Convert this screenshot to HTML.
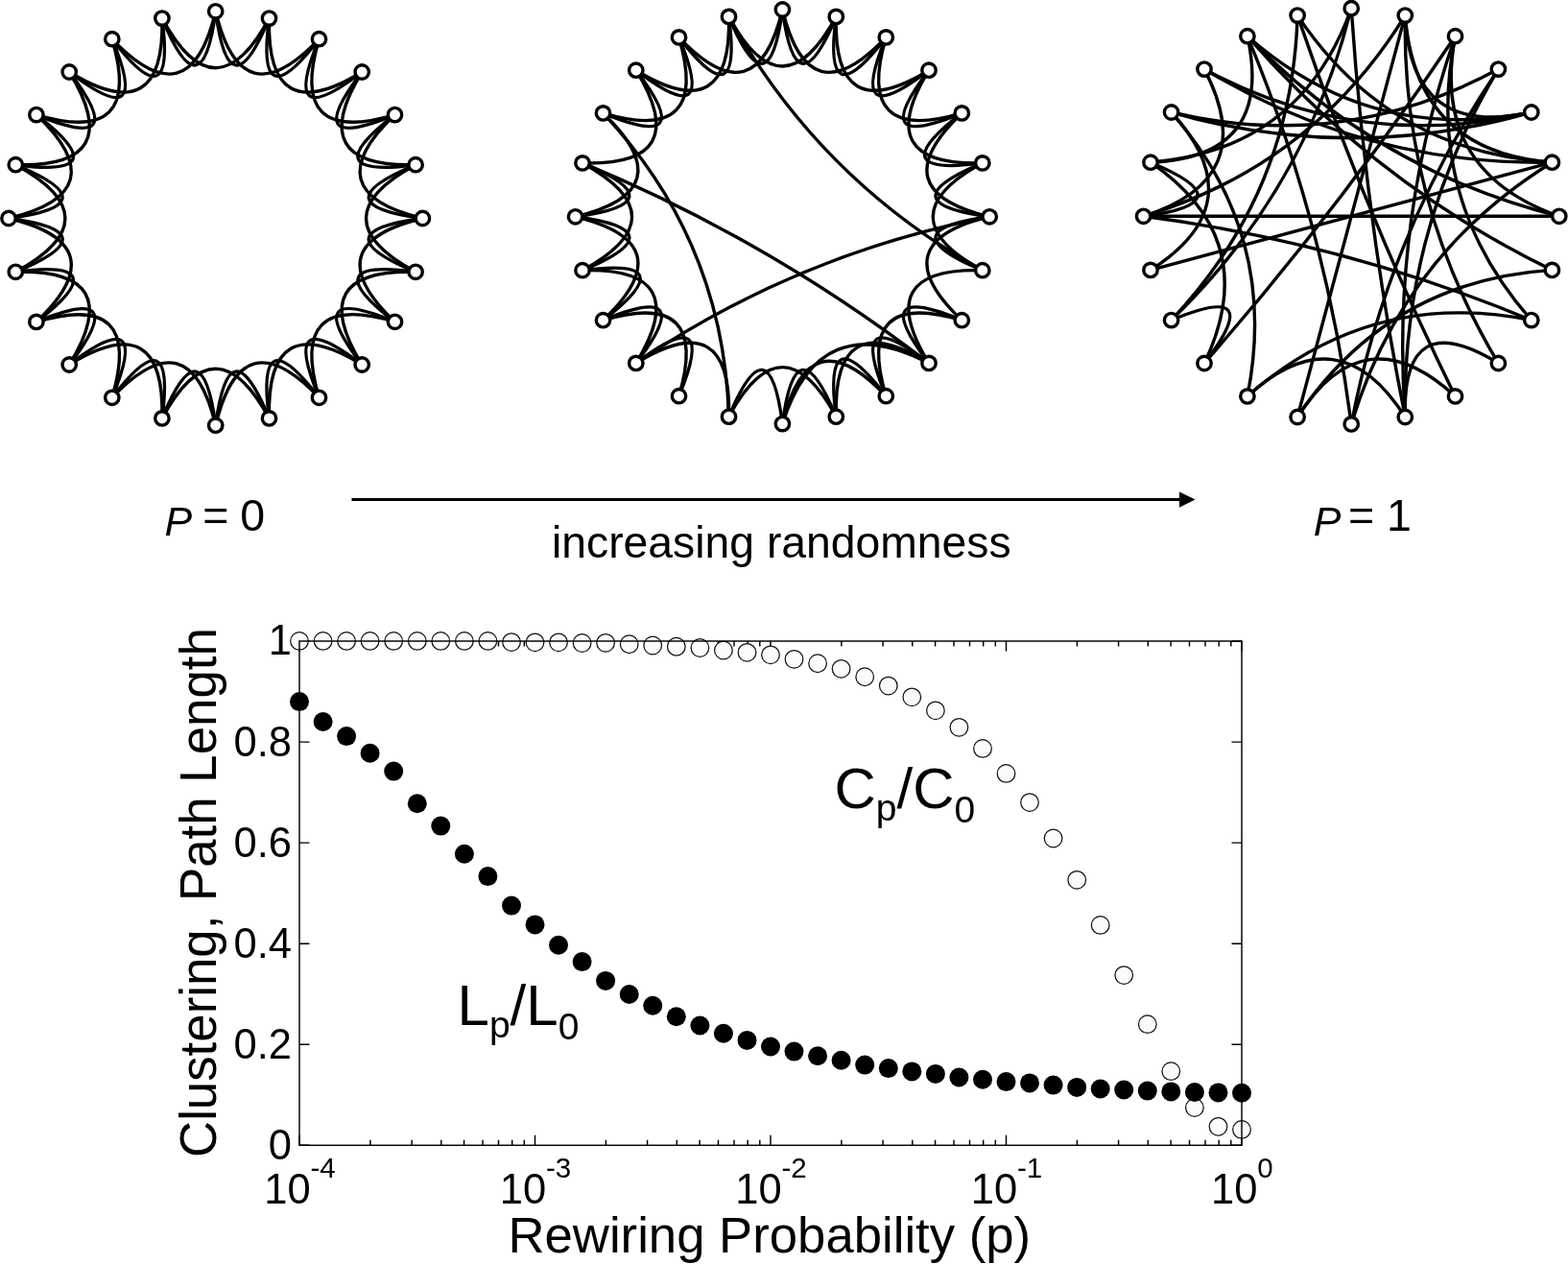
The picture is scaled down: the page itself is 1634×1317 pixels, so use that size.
<!DOCTYPE html>
<html><head><meta charset="utf-8"><title>Small-world network: increasing randomness</title>
<style>html,body{margin:0;padding:0;background:#fff}svg{display:block}</style></head>
<body>
<svg width="1634" height="1317" viewBox="0 0 1634 1317" font-family="'Liberation Sans', sans-serif" fill="#000">
<rect width="1634" height="1317" fill="#fff"/>
<g id="g1">
<g fill="none" stroke="#000" stroke-width="3.4" stroke-linecap="round">
<path d="M224.7 11.8Q238.8 120.4 280.5 19.1"/>
<path d="M224.7 11.8Q251.9 125.9 332.5 40.7"/>
<path d="M280.5 19.1Q266.0 127.7 332.5 40.7"/>
<path d="M280.5 19.1Q277.3 136.4 377.2 75.0"/>
<path d="M332.5 40.7Q290.4 141.8 377.2 75.0"/>
<path d="M332.5 40.7Q299.1 153.1 411.5 119.6"/>
<path d="M377.2 75.0Q310.4 161.8 411.5 119.6"/>
<path d="M377.2 75.0Q315.8 174.9 433.1 171.7"/>
<path d="M411.5 119.6Q324.5 186.2 433.1 171.7"/>
<path d="M411.5 119.6Q326.3 200.3 440.4 227.5"/>
<path d="M433.1 171.7Q331.8 213.4 440.4 227.5"/>
<path d="M433.1 171.7Q329.9 227.5 433.1 283.3"/>
<path d="M440.4 227.5Q331.8 241.6 433.1 283.3"/>
<path d="M440.4 227.5Q326.3 254.7 411.5 335.3"/>
<path d="M433.1 283.3Q324.5 268.8 411.5 335.3"/>
<path d="M433.1 283.3Q315.8 280.1 377.2 380.0"/>
<path d="M411.5 335.3Q310.4 293.2 377.2 380.0"/>
<path d="M411.5 335.3Q299.1 301.9 332.5 414.3"/>
<path d="M377.2 380.0Q290.4 313.2 332.5 414.3"/>
<path d="M377.2 380.0Q277.3 318.6 280.5 435.9"/>
<path d="M332.5 414.3Q266.0 327.3 280.5 435.9"/>
<path d="M332.5 414.3Q251.9 329.1 224.7 443.2"/>
<path d="M280.5 435.9Q238.8 334.6 224.7 443.2"/>
<path d="M280.5 435.9Q224.7 332.7 168.9 435.9"/>
<path d="M224.7 443.2Q210.6 334.6 168.9 435.9"/>
<path d="M224.7 443.2Q197.5 329.1 116.8 414.3"/>
<path d="M168.9 435.9Q183.4 327.3 116.8 414.3"/>
<path d="M168.9 435.9Q172.1 318.6 72.2 380.0"/>
<path d="M116.8 414.3Q159.0 313.2 72.2 380.0"/>
<path d="M116.8 414.3Q150.3 301.9 37.9 335.4"/>
<path d="M72.2 380.0Q139.0 293.2 37.9 335.4"/>
<path d="M72.2 380.0Q133.6 280.1 16.3 283.3"/>
<path d="M37.9 335.4Q124.9 268.8 16.3 283.3"/>
<path d="M37.9 335.4Q123.1 254.7 9.0 227.5"/>
<path d="M16.3 283.3Q117.6 241.6 9.0 227.5"/>
<path d="M16.3 283.3Q119.5 227.5 16.3 171.7"/>
<path d="M9.0 227.5Q117.6 213.4 16.3 171.7"/>
<path d="M9.0 227.5Q123.1 200.3 37.9 119.6"/>
<path d="M16.3 171.7Q124.9 186.2 37.9 119.6"/>
<path d="M16.3 171.7Q133.6 174.9 72.2 75.0"/>
<path d="M37.9 119.6Q139.0 161.8 72.2 75.0"/>
<path d="M37.9 119.6Q150.3 153.1 116.8 40.7"/>
<path d="M72.2 75.0Q159.0 141.8 116.8 40.7"/>
<path d="M72.2 75.0Q172.1 136.4 168.9 19.1"/>
<path d="M116.8 40.7Q183.4 127.7 168.9 19.1"/>
<path d="M116.8 40.7Q197.5 125.9 224.7 11.8"/>
<path d="M168.9 19.1Q210.6 120.4 224.7 11.8"/>
<path d="M168.9 19.1Q224.7 122.3 280.5 19.1"/>
</g>
<circle cx="224.7" cy="11.8" r="7.2" fill="#fff" stroke="#000" stroke-width="3.4"/>
<circle cx="280.5" cy="19.1" r="7.2" fill="#fff" stroke="#000" stroke-width="3.4"/>
<circle cx="332.5" cy="40.7" r="7.2" fill="#fff" stroke="#000" stroke-width="3.4"/>
<circle cx="377.2" cy="75.0" r="7.2" fill="#fff" stroke="#000" stroke-width="3.4"/>
<circle cx="411.5" cy="119.6" r="7.2" fill="#fff" stroke="#000" stroke-width="3.4"/>
<circle cx="433.1" cy="171.7" r="7.2" fill="#fff" stroke="#000" stroke-width="3.4"/>
<circle cx="440.4" cy="227.5" r="7.2" fill="#fff" stroke="#000" stroke-width="3.4"/>
<circle cx="433.1" cy="283.3" r="7.2" fill="#fff" stroke="#000" stroke-width="3.4"/>
<circle cx="411.5" cy="335.3" r="7.2" fill="#fff" stroke="#000" stroke-width="3.4"/>
<circle cx="377.2" cy="380.0" r="7.2" fill="#fff" stroke="#000" stroke-width="3.4"/>
<circle cx="332.5" cy="414.3" r="7.2" fill="#fff" stroke="#000" stroke-width="3.4"/>
<circle cx="280.5" cy="435.9" r="7.2" fill="#fff" stroke="#000" stroke-width="3.4"/>
<circle cx="224.7" cy="443.2" r="7.2" fill="#fff" stroke="#000" stroke-width="3.4"/>
<circle cx="168.9" cy="435.9" r="7.2" fill="#fff" stroke="#000" stroke-width="3.4"/>
<circle cx="116.8" cy="414.3" r="7.2" fill="#fff" stroke="#000" stroke-width="3.4"/>
<circle cx="72.2" cy="380.0" r="7.2" fill="#fff" stroke="#000" stroke-width="3.4"/>
<circle cx="37.9" cy="335.4" r="7.2" fill="#fff" stroke="#000" stroke-width="3.4"/>
<circle cx="16.3" cy="283.3" r="7.2" fill="#fff" stroke="#000" stroke-width="3.4"/>
<circle cx="9.0" cy="227.5" r="7.2" fill="#fff" stroke="#000" stroke-width="3.4"/>
<circle cx="16.3" cy="171.7" r="7.2" fill="#fff" stroke="#000" stroke-width="3.4"/>
<circle cx="37.9" cy="119.6" r="7.2" fill="#fff" stroke="#000" stroke-width="3.4"/>
<circle cx="72.2" cy="75.0" r="7.2" fill="#fff" stroke="#000" stroke-width="3.4"/>
<circle cx="116.8" cy="40.7" r="7.2" fill="#fff" stroke="#000" stroke-width="3.4"/>
<circle cx="168.9" cy="19.1" r="7.2" fill="#fff" stroke="#000" stroke-width="3.4"/>
</g>
<g id="g2">
<g fill="none" stroke="#000" stroke-width="3.4" stroke-linecap="round">
<path d="M1031.2 225.8Q831.4 264.3 662.8 378.4"/>
<path d="M1002.3 117.9Q917.1 198.6 1031.2 225.8"/>
<path d="M923.3 38.9Q881.2 140.1 968.0 73.2"/>
<path d="M871.3 434.2Q829.5 332.9 815.4 441.6"/>
<path d="M1002.3 117.9Q915.2 184.5 1023.8 169.9"/>
<path d="M815.4 10.0Q788.2 124.1 707.5 38.9"/>
<path d="M1023.8 281.7Q906.6 278.4 968.0 378.4"/>
<path d="M662.8 73.2Q762.8 134.6 759.5 17.4"/>
<path d="M707.5 412.7Q749.6 311.5 662.8 378.4"/>
<path d="M923.3 412.7Q856.7 325.6 871.3 434.2"/>
<path d="M1023.8 281.7Q853.9 187.3 759.5 17.4"/>
<path d="M968.0 73.2Q901.1 160.0 1002.3 117.9"/>
<path d="M628.5 333.7Q715.6 267.1 607.0 281.7"/>
<path d="M871.3 17.4Q815.4 120.5 759.5 17.4"/>
<path d="M815.4 10.0Q842.6 124.1 923.3 38.9"/>
<path d="M707.5 38.9Q774.1 126.0 759.5 17.4"/>
<path d="M662.8 378.4Q729.7 291.6 628.5 333.7"/>
<path d="M1002.3 333.7Q889.8 300.2 923.3 412.7"/>
<path d="M923.3 38.9Q889.8 151.4 1002.3 117.9"/>
<path d="M1023.8 169.9Q922.5 211.7 1031.2 225.8"/>
<path d="M968.0 378.4Q868.0 317.0 871.3 434.2"/>
<path d="M599.6 225.8Q708.3 211.7 607.0 169.9"/>
<path d="M968.0 73.2Q906.6 173.2 1023.8 169.9"/>
<path d="M662.8 378.4Q724.2 278.4 607.0 281.7"/>
<path d="M968.0 378.4Q853.9 318.8 815.4 441.6"/>
<path d="M871.3 17.4Q868.0 134.6 968.0 73.2"/>
<path d="M599.6 225.8Q713.7 198.6 628.5 117.9"/>
<path d="M871.3 434.2Q815.4 331.1 759.5 434.2"/>
<path d="M707.5 412.7Q741.0 300.2 628.5 333.7"/>
<path d="M759.5 434.2Q762.8 317.0 662.8 378.4"/>
<path d="M815.4 10.0Q829.5 118.7 871.3 17.4"/>
<path d="M1031.2 225.8Q922.5 239.9 1023.8 281.7"/>
<path d="M607.0 169.9Q724.2 173.2 662.8 73.2"/>
<path d="M607.0 281.7Q708.3 239.9 599.6 225.8"/>
<path d="M662.8 73.2Q749.6 140.1 707.5 38.9"/>
<path d="M923.3 412.7Q842.6 327.5 815.4 441.6"/>
<path d="M1031.2 225.8Q917.1 253.0 1002.3 333.7"/>
<path d="M628.5 333.7Q713.7 253.0 599.6 225.8"/>
<path d="M628.5 117.9Q729.7 160.0 662.8 73.2"/>
<path d="M1023.8 169.9Q920.7 225.8 1023.8 281.7"/>
<path d="M968.0 378.4Q881.2 311.5 923.3 412.7"/>
<path d="M871.3 17.4Q856.7 126.0 923.3 38.9"/>
<path d="M1002.3 333.7Q901.1 291.6 968.0 378.4"/>
<path d="M607.0 281.7Q710.1 225.8 607.0 169.9"/>
<path d="M815.4 10.0Q801.3 118.7 759.5 17.4"/>
<path d="M759.5 434.2Q754.1 251.2 628.5 117.9"/>
<path d="M815.4 441.6Q801.3 332.9 759.5 434.2"/>
<path d="M628.5 117.9Q741.0 151.4 707.5 38.9"/>
<path d="M968.0 378.4Q801.3 250.2 607.0 169.9"/>
</g>
<circle cx="815.4" cy="10.0" r="7.2" fill="#fff" stroke="#000" stroke-width="3.4"/>
<circle cx="871.3" cy="17.4" r="7.2" fill="#fff" stroke="#000" stroke-width="3.4"/>
<circle cx="923.3" cy="38.9" r="7.2" fill="#fff" stroke="#000" stroke-width="3.4"/>
<circle cx="968.0" cy="73.2" r="7.2" fill="#fff" stroke="#000" stroke-width="3.4"/>
<circle cx="1002.3" cy="117.9" r="7.2" fill="#fff" stroke="#000" stroke-width="3.4"/>
<circle cx="1023.8" cy="169.9" r="7.2" fill="#fff" stroke="#000" stroke-width="3.4"/>
<circle cx="1031.2" cy="225.8" r="7.2" fill="#fff" stroke="#000" stroke-width="3.4"/>
<circle cx="1023.8" cy="281.7" r="7.2" fill="#fff" stroke="#000" stroke-width="3.4"/>
<circle cx="1002.3" cy="333.7" r="7.2" fill="#fff" stroke="#000" stroke-width="3.4"/>
<circle cx="968.0" cy="378.4" r="7.2" fill="#fff" stroke="#000" stroke-width="3.4"/>
<circle cx="923.3" cy="412.7" r="7.2" fill="#fff" stroke="#000" stroke-width="3.4"/>
<circle cx="871.3" cy="434.2" r="7.2" fill="#fff" stroke="#000" stroke-width="3.4"/>
<circle cx="815.4" cy="441.6" r="7.2" fill="#fff" stroke="#000" stroke-width="3.4"/>
<circle cx="759.5" cy="434.2" r="7.2" fill="#fff" stroke="#000" stroke-width="3.4"/>
<circle cx="707.5" cy="412.7" r="7.2" fill="#fff" stroke="#000" stroke-width="3.4"/>
<circle cx="662.8" cy="378.4" r="7.2" fill="#fff" stroke="#000" stroke-width="3.4"/>
<circle cx="628.5" cy="333.7" r="7.2" fill="#fff" stroke="#000" stroke-width="3.4"/>
<circle cx="607.0" cy="281.7" r="7.2" fill="#fff" stroke="#000" stroke-width="3.4"/>
<circle cx="599.6" cy="225.8" r="7.2" fill="#fff" stroke="#000" stroke-width="3.4"/>
<circle cx="607.0" cy="169.9" r="7.2" fill="#fff" stroke="#000" stroke-width="3.4"/>
<circle cx="628.5" cy="117.9" r="7.2" fill="#fff" stroke="#000" stroke-width="3.4"/>
<circle cx="662.8" cy="73.2" r="7.2" fill="#fff" stroke="#000" stroke-width="3.4"/>
<circle cx="707.5" cy="38.9" r="7.2" fill="#fff" stroke="#000" stroke-width="3.4"/>
<circle cx="759.5" cy="17.4" r="7.2" fill="#fff" stroke="#000" stroke-width="3.4"/>
</g>
<g id="g3">
<g fill="none" stroke="#000" stroke-width="3.4" stroke-linecap="round">
<path d="M1408.2 8.7Q1355.4 156.5 1199.0 169.2"/>
<path d="M1408.2 8.7Q1360.8 198.0 1220.6 333.6"/>
<path d="M1408.2 8.7Q1422.4 223.4 1464.3 434.5"/>
<path d="M1464.3 16.1Q1367.7 172.5 1191.6 225.3"/>
<path d="M1464.3 16.1Q1408.2 225.3 1352.1 434.5"/>
<path d="M1464.3 16.1Q1461.0 211.1 1561.4 378.5"/>
<path d="M1464.3 16.1Q1469.7 145.1 1595.8 117.0"/>
<path d="M1464.3 16.1Q1475.2 158.3 1617.4 169.2"/>
<path d="M1516.5 37.7Q1396.9 216.6 1255.0 378.5"/>
<path d="M1516.5 37.7Q1449.7 230.8 1464.3 434.5"/>
<path d="M1516.5 37.7Q1482.9 205.3 1595.8 333.6"/>
<path d="M1516.5 37.7Q1490.2 177.9 1624.8 225.3"/>
<path d="M1561.4 72.1Q1399.5 159.3 1220.6 117.0"/>
<path d="M1561.4 72.1Q1446.9 241.3 1408.2 441.9"/>
<path d="M1595.8 117.0Q1408.2 170.6 1220.6 117.0"/>
<path d="M1595.8 117.0Q1416.9 159.3 1255.0 72.1"/>
<path d="M1595.8 117.0Q1428.2 150.6 1299.9 37.7"/>
<path d="M1617.4 169.2Q1446.9 158.3 1352.1 16.1"/>
<path d="M1617.4 169.2Q1422.4 172.5 1255.0 72.1"/>
<path d="M1617.4 169.2Q1408.2 225.3 1199.0 281.4"/>
<path d="M1617.4 169.2Q1461.0 265.8 1408.2 441.9"/>
<path d="M1624.8 225.3Q1408.2 225.3 1191.6 225.3"/>
<path d="M1624.8 225.3Q1435.5 177.9 1299.9 37.7"/>
<path d="M1617.4 281.4Q1433.7 192.1 1299.9 37.7"/>
<path d="M1617.4 281.4Q1446.9 292.3 1352.1 434.5"/>
<path d="M1595.8 333.6Q1400.9 252.6 1191.6 225.3"/>
<path d="M1595.8 333.6Q1428.2 300.0 1299.9 412.9"/>
<path d="M1561.4 378.5Q1461.0 316.8 1464.3 434.5"/>
<path d="M1516.5 412.9Q1421.4 219.8 1352.1 16.1"/>
<path d="M1516.5 412.9Q1421.4 325.5 1352.1 434.5"/>
<path d="M1464.3 434.5Q1395.0 325.5 1299.9 412.9"/>
<path d="M1408.2 441.9Q1380.9 232.6 1299.9 37.7"/>
<path d="M1299.9 412.9Q1333.5 245.3 1220.6 117.0"/>
<path d="M1255.0 378.5Q1322.2 291.3 1220.6 333.6"/>
<path d="M1255.0 378.5Q1316.7 249.8 1199.0 169.2"/>
<path d="M1220.6 333.6Q1346.7 199.8 1352.1 16.1"/>
<path d="M1199.0 281.4Q1308.0 212.1 1220.6 117.0"/>
<path d="M1191.6 225.3Q1300.7 211.1 1199.0 169.2"/>
<path d="M1191.6 225.3Q1314.8 186.6 1255.0 72.1"/>
<path d="M1199.0 169.2Q1328.0 163.8 1299.9 37.7"/>
<path d="M1561.4 72.1Q1461.0 239.5 1464.3 434.5"/>
</g>
<circle cx="1408.2" cy="8.7" r="7.2" fill="#fff" stroke="#000" stroke-width="3.4"/>
<circle cx="1464.3" cy="16.1" r="7.2" fill="#fff" stroke="#000" stroke-width="3.4"/>
<circle cx="1516.5" cy="37.7" r="7.2" fill="#fff" stroke="#000" stroke-width="3.4"/>
<circle cx="1561.4" cy="72.1" r="7.2" fill="#fff" stroke="#000" stroke-width="3.4"/>
<circle cx="1595.8" cy="117.0" r="7.2" fill="#fff" stroke="#000" stroke-width="3.4"/>
<circle cx="1617.4" cy="169.2" r="7.2" fill="#fff" stroke="#000" stroke-width="3.4"/>
<circle cx="1624.8" cy="225.3" r="7.2" fill="#fff" stroke="#000" stroke-width="3.4"/>
<circle cx="1617.4" cy="281.4" r="7.2" fill="#fff" stroke="#000" stroke-width="3.4"/>
<circle cx="1595.8" cy="333.6" r="7.2" fill="#fff" stroke="#000" stroke-width="3.4"/>
<circle cx="1561.4" cy="378.5" r="7.2" fill="#fff" stroke="#000" stroke-width="3.4"/>
<circle cx="1516.5" cy="412.9" r="7.2" fill="#fff" stroke="#000" stroke-width="3.4"/>
<circle cx="1464.3" cy="434.5" r="7.2" fill="#fff" stroke="#000" stroke-width="3.4"/>
<circle cx="1408.2" cy="441.9" r="7.2" fill="#fff" stroke="#000" stroke-width="3.4"/>
<circle cx="1352.1" cy="434.5" r="7.2" fill="#fff" stroke="#000" stroke-width="3.4"/>
<circle cx="1299.9" cy="412.9" r="7.2" fill="#fff" stroke="#000" stroke-width="3.4"/>
<circle cx="1255.0" cy="378.5" r="7.2" fill="#fff" stroke="#000" stroke-width="3.4"/>
<circle cx="1220.6" cy="333.6" r="7.2" fill="#fff" stroke="#000" stroke-width="3.4"/>
<circle cx="1199.0" cy="281.4" r="7.2" fill="#fff" stroke="#000" stroke-width="3.4"/>
<circle cx="1191.6" cy="225.3" r="7.2" fill="#fff" stroke="#000" stroke-width="3.4"/>
<circle cx="1199.0" cy="169.2" r="7.2" fill="#fff" stroke="#000" stroke-width="3.4"/>
<circle cx="1220.6" cy="117.0" r="7.2" fill="#fff" stroke="#000" stroke-width="3.4"/>
<circle cx="1255.0" cy="72.1" r="7.2" fill="#fff" stroke="#000" stroke-width="3.4"/>
<circle cx="1299.9" cy="37.7" r="7.2" fill="#fff" stroke="#000" stroke-width="3.4"/>
<circle cx="1352.1" cy="16.1" r="7.2" fill="#fff" stroke="#000" stroke-width="3.4"/>
</g>
<g id="labels">
<path d="M366.5 520.6H1232" stroke="#000" stroke-width="3" fill="none"/>
<path d="M1245.5 520.6L1229 512.4V528.8Z" fill="#000"/>
<text x="575" y="581.2" font-size="46.3">increasing randomness</text>
<text x="171.5" y="558" font-size="43" font-style="italic">P</text>
<text x="211.3" y="552.9" font-size="46.5" word-spacing="-1">= 0</text>
<text x="1368.8" y="558" font-size="43" font-style="italic">P</text>
<text x="1405" y="552.9" font-size="46.5">= 1</text>
</g>
<g id="plot">
<path d="M312.0 1193.3v-10.5 M312.0 668.0v10.5 M385.9 1193.3v-5.5 M385.9 668.0v5.5 M429.1 1193.3v-5.5 M429.1 668.0v5.5 M459.8 1193.3v-5.5 M459.8 668.0v5.5 M483.6 1193.3v-5.5 M483.6 668.0v5.5 M503.0 1193.3v-5.5 M503.0 668.0v5.5 M519.5 1193.3v-5.5 M519.5 668.0v5.5 M533.7 1193.3v-5.5 M533.7 668.0v5.5 M546.3 1193.3v-5.5 M546.3 668.0v5.5 M557.5 1193.3v-10.5 M557.5 668.0v10.5 M631.4 1193.3v-5.5 M631.4 668.0v5.5 M674.6 1193.3v-5.5 M674.6 668.0v5.5 M705.3 1193.3v-5.5 M705.3 668.0v5.5 M729.1 1193.3v-5.5 M729.1 668.0v5.5 M748.5 1193.3v-5.5 M748.5 668.0v5.5 M765.0 1193.3v-5.5 M765.0 668.0v5.5 M779.2 1193.3v-5.5 M779.2 668.0v5.5 M791.8 1193.3v-5.5 M791.8 668.0v5.5 M803.0 1193.3v-10.5 M803.0 668.0v10.5 M876.9 1193.3v-5.5 M876.9 668.0v5.5 M920.1 1193.3v-5.5 M920.1 668.0v5.5 M950.8 1193.3v-5.5 M950.8 668.0v5.5 M974.6 1193.3v-5.5 M974.6 668.0v5.5 M994.0 1193.3v-5.5 M994.0 668.0v5.5 M1010.5 1193.3v-5.5 M1010.5 668.0v5.5 M1024.7 1193.3v-5.5 M1024.7 668.0v5.5 M1037.3 1193.3v-5.5 M1037.3 668.0v5.5 M1048.5 1193.3v-10.5 M1048.5 668.0v10.5 M1122.4 1193.3v-5.5 M1122.4 668.0v5.5 M1165.6 1193.3v-5.5 M1165.6 668.0v5.5 M1196.3 1193.3v-5.5 M1196.3 668.0v5.5 M1220.1 1193.3v-5.5 M1220.1 668.0v5.5 M1239.5 1193.3v-5.5 M1239.5 668.0v5.5 M1256.0 1193.3v-5.5 M1256.0 668.0v5.5 M1270.2 1193.3v-5.5 M1270.2 668.0v5.5 M1282.8 1193.3v-5.5 M1282.8 668.0v5.5 M1294.0 1193.3v-10.5 M1294.0 668.0v10.5 M312.0 1193.3h10.5 M1294.0 1193.3h-10.5 M312.0 1088.2h10.5 M1294.0 1088.2h-10.5 M312.0 983.2h10.5 M1294.0 983.2h-10.5 M312.0 878.1h10.5 M1294.0 878.1h-10.5 M312.0 773.1h10.5 M1294.0 773.1h-10.5 M312.0 668.0h10.5 M1294.0 668.0h-10.5" stroke="#000" stroke-width="1.45" fill="none"/>
<circle cx="312.0" cy="667.9" r="9.3" fill="#fbfbfb" stroke="#111" stroke-width="1.25"/>
<circle cx="336.6" cy="667.9" r="9.3" fill="#fbfbfb" stroke="#111" stroke-width="1.25"/>
<circle cx="361.1" cy="667.9" r="9.3" fill="#fbfbfb" stroke="#111" stroke-width="1.25"/>
<circle cx="385.6" cy="667.9" r="9.3" fill="#fbfbfb" stroke="#111" stroke-width="1.25"/>
<circle cx="410.2" cy="667.9" r="9.3" fill="#fbfbfb" stroke="#111" stroke-width="1.25"/>
<circle cx="434.8" cy="667.9" r="9.3" fill="#fbfbfb" stroke="#111" stroke-width="1.25"/>
<circle cx="459.3" cy="667.9" r="9.3" fill="#fbfbfb" stroke="#111" stroke-width="1.25"/>
<circle cx="483.9" cy="667.9" r="9.3" fill="#fbfbfb" stroke="#111" stroke-width="1.25"/>
<circle cx="508.4" cy="667.9" r="9.3" fill="#fbfbfb" stroke="#111" stroke-width="1.25"/>
<circle cx="533.0" cy="669.1" r="9.3" fill="#fbfbfb" stroke="#111" stroke-width="1.25"/>
<circle cx="557.5" cy="669.3" r="9.3" fill="#fbfbfb" stroke="#111" stroke-width="1.25"/>
<circle cx="582.0" cy="669.3" r="9.3" fill="#fbfbfb" stroke="#111" stroke-width="1.25"/>
<circle cx="606.6" cy="670.0" r="9.3" fill="#fbfbfb" stroke="#111" stroke-width="1.25"/>
<circle cx="631.1" cy="669.8" r="9.3" fill="#fbfbfb" stroke="#111" stroke-width="1.25"/>
<circle cx="655.7" cy="671.2" r="9.3" fill="#fbfbfb" stroke="#111" stroke-width="1.25"/>
<circle cx="680.2" cy="672.5" r="9.3" fill="#fbfbfb" stroke="#111" stroke-width="1.25"/>
<circle cx="704.8" cy="673.7" r="9.3" fill="#fbfbfb" stroke="#111" stroke-width="1.25"/>
<circle cx="729.4" cy="675.0" r="9.3" fill="#fbfbfb" stroke="#111" stroke-width="1.25"/>
<circle cx="753.9" cy="677.5" r="9.3" fill="#fbfbfb" stroke="#111" stroke-width="1.25"/>
<circle cx="778.5" cy="679.8" r="9.3" fill="#fbfbfb" stroke="#111" stroke-width="1.25"/>
<circle cx="803.0" cy="682.3" r="9.3" fill="#fbfbfb" stroke="#111" stroke-width="1.25"/>
<circle cx="827.5" cy="686.8" r="9.3" fill="#fbfbfb" stroke="#111" stroke-width="1.25"/>
<circle cx="852.1" cy="691.2" r="9.3" fill="#fbfbfb" stroke="#111" stroke-width="1.25"/>
<circle cx="876.6" cy="696.8" r="9.3" fill="#fbfbfb" stroke="#111" stroke-width="1.25"/>
<circle cx="901.2" cy="705.2" r="9.3" fill="#fbfbfb" stroke="#111" stroke-width="1.25"/>
<circle cx="925.8" cy="714.6" r="9.3" fill="#fbfbfb" stroke="#111" stroke-width="1.25"/>
<circle cx="950.3" cy="726.3" r="9.3" fill="#fbfbfb" stroke="#111" stroke-width="1.25"/>
<circle cx="974.9" cy="740.3" r="9.3" fill="#fbfbfb" stroke="#111" stroke-width="1.25"/>
<circle cx="999.4" cy="757.8" r="9.3" fill="#fbfbfb" stroke="#111" stroke-width="1.25"/>
<circle cx="1024.0" cy="779.9" r="9.3" fill="#fbfbfb" stroke="#111" stroke-width="1.25"/>
<circle cx="1048.5" cy="805.9" r="9.3" fill="#fbfbfb" stroke="#111" stroke-width="1.25"/>
<circle cx="1073.0" cy="836.1" r="9.3" fill="#fbfbfb" stroke="#111" stroke-width="1.25"/>
<circle cx="1097.6" cy="873.5" r="9.3" fill="#fbfbfb" stroke="#111" stroke-width="1.25"/>
<circle cx="1122.2" cy="916.8" r="9.3" fill="#fbfbfb" stroke="#111" stroke-width="1.25"/>
<circle cx="1146.7" cy="963.9" r="9.3" fill="#fbfbfb" stroke="#111" stroke-width="1.25"/>
<circle cx="1171.2" cy="1016.1" r="9.3" fill="#fbfbfb" stroke="#111" stroke-width="1.25"/>
<circle cx="1195.8" cy="1067.2" r="9.3" fill="#fbfbfb" stroke="#111" stroke-width="1.25"/>
<circle cx="1220.3" cy="1116.2" r="9.3" fill="#fbfbfb" stroke="#111" stroke-width="1.25"/>
<circle cx="1244.9" cy="1154.0" r="9.3" fill="#fbfbfb" stroke="#111" stroke-width="1.25"/>
<circle cx="1269.5" cy="1173.8" r="9.3" fill="#fbfbfb" stroke="#111" stroke-width="1.25"/>
<circle cx="1294.0" cy="1176.9" r="9.3" fill="#fbfbfb" stroke="#111" stroke-width="1.25"/>
<rect x="312.0" y="668.0" width="982.0" height="525.3" fill="none" stroke="#000" stroke-width="1.45"/>
<circle cx="312.0" cy="731.1" r="10" fill="#000"/>
<circle cx="336.6" cy="752.0" r="10" fill="#000"/>
<circle cx="361.1" cy="767.1" r="10" fill="#000"/>
<circle cx="385.6" cy="784.8" r="10" fill="#000"/>
<circle cx="410.2" cy="803.6" r="10" fill="#000"/>
<circle cx="434.8" cy="837.3" r="10" fill="#000"/>
<circle cx="459.3" cy="860.6" r="10" fill="#000"/>
<circle cx="483.9" cy="889.8" r="10" fill="#000"/>
<circle cx="508.4" cy="913.1" r="10" fill="#000"/>
<circle cx="533.0" cy="943.6" r="10" fill="#000"/>
<circle cx="557.5" cy="963.4" r="10" fill="#000"/>
<circle cx="582.0" cy="984.8" r="10" fill="#000"/>
<circle cx="606.6" cy="1002.1" r="10" fill="#000"/>
<circle cx="631.1" cy="1021.9" r="10" fill="#000"/>
<circle cx="655.7" cy="1036.0" r="10" fill="#000"/>
<circle cx="680.2" cy="1047.7" r="10" fill="#000"/>
<circle cx="704.8" cy="1059.3" r="10" fill="#000"/>
<circle cx="729.4" cy="1068.5" r="10" fill="#000"/>
<circle cx="753.9" cy="1076.8" r="10" fill="#000"/>
<circle cx="778.5" cy="1083.9" r="10" fill="#000"/>
<circle cx="803.0" cy="1090.5" r="10" fill="#000"/>
<circle cx="827.5" cy="1095.6" r="10" fill="#000"/>
<circle cx="852.1" cy="1100.2" r="10" fill="#000"/>
<circle cx="876.6" cy="1104.8" r="10" fill="#000"/>
<circle cx="901.2" cy="1109.6" r="10" fill="#000"/>
<circle cx="925.8" cy="1113.1" r="10" fill="#000"/>
<circle cx="950.3" cy="1116.4" r="10" fill="#000"/>
<circle cx="974.9" cy="1118.9" r="10" fill="#000"/>
<circle cx="999.4" cy="1122.5" r="10" fill="#000"/>
<circle cx="1024.0" cy="1124.8" r="10" fill="#000"/>
<circle cx="1048.5" cy="1127.1" r="10" fill="#000"/>
<circle cx="1073.0" cy="1128.4" r="10" fill="#000"/>
<circle cx="1097.6" cy="1130.6" r="10" fill="#000"/>
<circle cx="1122.2" cy="1132.9" r="10" fill="#000"/>
<circle cx="1146.7" cy="1134.5" r="10" fill="#000"/>
<circle cx="1171.2" cy="1135.5" r="10" fill="#000"/>
<circle cx="1195.8" cy="1136.6" r="10" fill="#000"/>
<circle cx="1220.3" cy="1137.4" r="10" fill="#000"/>
<circle cx="1244.9" cy="1138.0" r="10" fill="#000"/>
<circle cx="1269.5" cy="1138.4" r="10" fill="#000"/>
<circle cx="1294.0" cy="1138.7" r="10" fill="#000"/>
<text x="304" y="1207.7" font-size="43.5" text-anchor="end">0</text>
<text x="304" y="1102.6" font-size="43.5" text-anchor="end">0.2</text>
<text x="304" y="997.6" font-size="43.5" text-anchor="end">0.4</text>
<text x="304" y="892.5" font-size="43.5" text-anchor="end">0.6</text>
<text x="304" y="787.5" font-size="43.5" text-anchor="end">0.8</text>
<text x="304" y="682.4" font-size="43.5" text-anchor="end">1</text>
<text x="275.3" y="1253.6" font-size="43.5">10<tspan font-size="29.5" dy="-26.9" dx="-0.3">-4</tspan></text>
<text x="520.8" y="1253.6" font-size="43.5">10<tspan font-size="29.5" dy="-26.9" dx="-0.3">-3</tspan></text>
<text x="766.3" y="1253.6" font-size="43.5">10<tspan font-size="29.5" dy="-26.9" dx="-0.3">-2</tspan></text>
<text x="1011.8" y="1253.6" font-size="43.5">10<tspan font-size="29.5" dy="-26.9" dx="-0.3">-1</tspan></text>
<text x="1262.1" y="1253.6" font-size="43.5">10<tspan font-size="29.5" dy="-26.9" dx="-0.3">0</tspan></text>
<text x="529.5" y="1305" font-size="52.7">Rewiring Probability (p)</text>
<text transform="translate(224.5,1206) rotate(-90)" font-size="52.8">Clustering, Path Length</text>
<text x="869.5" y="842" font-size="60">C<tspan font-size="39" dy="13">p</tspan><tspan dy="-13">/C</tspan><tspan font-size="39" dy="14.5">0</tspan></text>
<text x="476.5" y="1068" font-size="60">L<tspan font-size="39" dy="13">p</tspan><tspan dy="-13">/L</tspan><tspan font-size="39" dy="14.5">0</tspan></text>
</g>
</svg>
</body></html>
